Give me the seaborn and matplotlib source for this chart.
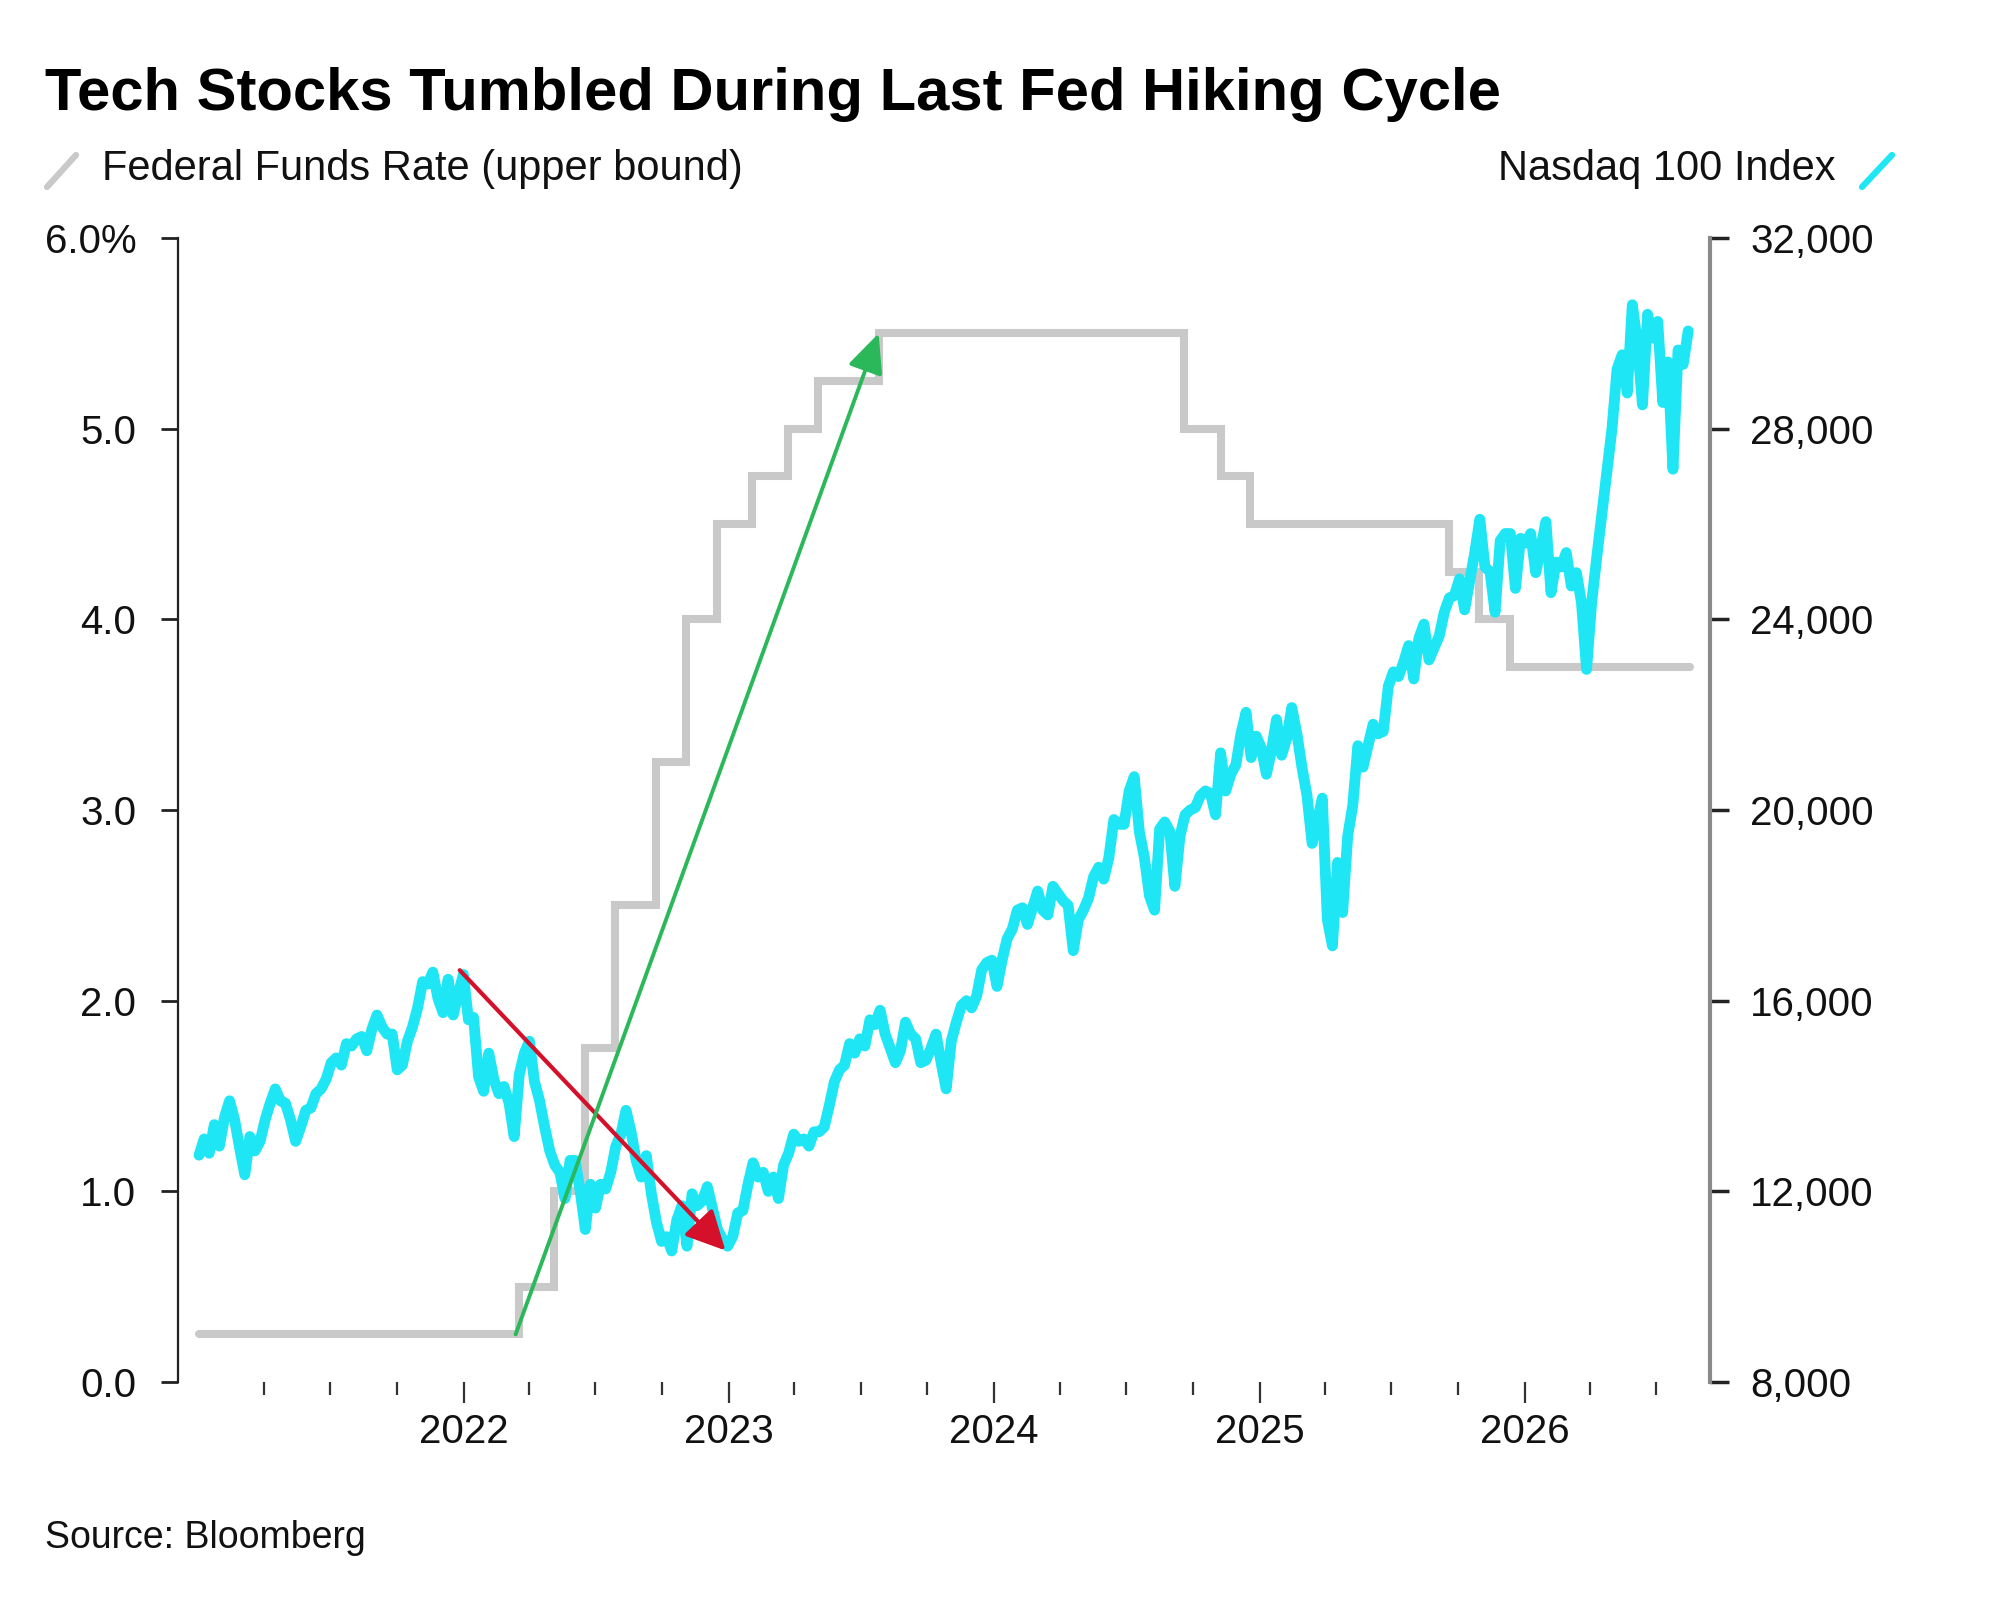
import pandas as pd
import matplotlib
matplotlib.use("Agg")
import matplotlib.pyplot as plt
import matplotlib.dates as mdates
from matplotlib.lines import Line2D
import seaborn as sns

# Nasdaq 100, roughly weekly readings, one list per calendar year
ndx_2021 = [12760, 13100, 12800, 13400, 12950, 13550, 13900, 13500, 12900, 12350,
            13150, 12850, 13050, 13500, 13850, 14150, 13900, 13850, 13500, 13050,
            13350, 13700, 13750, 14050, 14150, 14350, 14700, 14800, 14650, 15100,
            15050, 15200, 15250, 14950, 15400, 15700, 15450, 15300, 15300, 14550,
            14650, 15150, 15450, 15850, 16400, 16350, 16600, 16050, 15750, 16450,
            15700, 16150, 16550]
ndx_2022 = [15600, 15650, 14400, 14100, 14900, 14350, 14050, 14200, 13850, 13150,
            14450, 14900, 15150, 14300, 13900, 13350, 12850, 12550, 12400, 11850,
            12650, 12650, 12000, 11200, 12150, 11650, 12150, 12050, 12400, 12950,
            13200, 13700, 13250, 12650, 12300, 12750, 11950, 11350, 10950, 11050,
            10750, 11400, 11700, 10850, 11950, 11700, 11800, 12100, 11650, 11200,
            11000, 10850]
ndx_2023 = [11050, 11550, 11600, 12150, 12600, 12300, 12400, 12000, 12300, 11850,
            12550, 12800, 13200, 13050, 13100, 12950, 13250, 13250, 13350, 13800,
            14300, 14550, 14650, 15100, 14900, 15200, 15050, 15600, 15500, 15800,
            15300, 15000, 14700, 14950, 15550, 15300, 15200, 14700, 14750, 15000,
            15300, 14700, 14150, 15150, 15550, 15900, 16000, 15850, 16100, 16650,
            16800, 16850]
ndx_2024 = [16300, 16850, 17300, 17500, 17900, 17950, 17600, 17950, 18300, 17900,
            17800, 18400, 18250, 18100, 18000, 17050, 17700, 17900, 18150, 18600,
            18800, 18550, 19000, 19800, 19700, 19700, 20400, 20700, 19550, 19000,
            18200, 17900, 19600, 19750, 19550, 18400, 19450, 19900, 20000, 20050,
            20300, 20400, 20350, 19900, 21200, 20400, 20750, 20950, 21600, 22050,
            21100, 21550]
ndx_2025 = [21300, 20750, 21250, 21900, 21150, 21500, 22150, 21600, 20900, 20300,
            19300, 19750, 20250, 17700, 17150, 18900, 17850, 19450, 20100, 21350,
            20900, 21350, 21800, 21600, 21650, 22600, 22900, 22800, 23100, 23450,
            22750, 23600, 23900, 23150, 23400, 23650, 24150, 24450, 24500, 24850,
            24200, 24800, 25400, 26100, 25100, 25000, 24150, 25650, 25800, 25800,
            24650, 25700]
ndx_2026 = [25600, 25800, 24980, 25500, 26050, 24560, 25200, 25100, 25400, 24700,
            24980, 24350, 22950, 24350, 25300, 26200, 27100, 28000, 29250, 29550,
            28750, 30600, 29800, 28500, 30400, 29900, 30250, 28550, 29400, 27150,
            29650, 29350, 30050]

# first and last reading date of each yearly list
ndx_years = [
    ("2021-01-01", "2021-12-31", ndx_2021),
    ("2022-01-07", "2022-12-30", ndx_2022),
    ("2023-01-06", "2023-12-29", ndx_2023),
    ("2024-01-05", "2024-12-27", ndx_2024),
    ("2025-01-03", "2025-12-26", ndx_2025),
    ("2026-01-02", "2026-08-14", ndx_2026),
]

# federal funds rate, upper bound, at each change
rate_dates = ["2021-01-01", "2022-03-17", "2022-05-05", "2022-06-16", "2022-07-28",
              "2022-09-22", "2022-11-03", "2022-12-15", "2023-02-02", "2023-03-23",
              "2023-05-04", "2023-07-27", "2024-09-19", "2024-11-08", "2024-12-19",
              "2025-09-18", "2025-10-30", "2025-12-11", "2026-08-16"]
rate_values = [0.25, 0.50, 1.00, 1.75, 2.50, 3.25, 4.00, 4.50, 4.75, 5.00,
               5.25, 5.50, 5.00, 4.75, 4.50, 4.25, 4.00, 3.75, 3.75]

rate_ticks = [0, 1, 2, 3, 4, 5, 6]
rate_labels = ["0.0", "1.0", "2.0", "3.0", "4.0", "5.0", "6.0%"]
ndx_ticks = [8000, 12000, 16000, 20000, 24000, 28000, 32000]
ndx_labels = ["8,000", "12,000", "16,000", "20,000", "24,000", "28,000", "32,000"]
year_ticks = ["2022-01-01", "2023-01-01", "2024-01-01", "2025-01-01", "2026-01-01"]
year_labels = ["2022", "2023", "2024", "2025", "2026"]

# arrows drawn on the chart, in rate units: (date, rate) -> (date, rate)
red_arrow = (("2021-12-26", 2.16), ("2022-12-27", 0.69))
green_arrow = (("2022-03-13", 0.25), ("2023-07-26", 5.50))

CYAN = "#1fe6f4"
GRAY = "#c9c9c9"

ndx_df = pd.concat(
    [pd.DataFrame({"date": pd.date_range(s, e, periods=len(v)), "value": v})
     for s, e, v in ndx_years],
    ignore_index=True,
)
rate_df = pd.DataFrame({"date": pd.to_datetime(rate_dates), "rate": rate_values})

sns.set_theme(style="white")
plt.rcParams["font.family"] = ["Liberation Sans", "DejaVu Sans"]

fig = plt.figure(figsize=(20, 16.05), dpi=100)
ax = fig.add_axes([0.089, 0.1389, 0.766, 0.7128])
ax2 = ax.twinx()

sns.lineplot(data=rate_df, x="date", y="rate", ax=ax, color=GRAY, linewidth=5.8,
             drawstyle="steps-post", solid_joinstyle="miter")
sns.lineplot(data=ndx_df, x="date", y="value", ax=ax2, color=CYAN, linewidth=7.8,
             solid_joinstyle="round", solid_capstyle="round")

ax.set_xlim(pd.Timestamp("2020-12-03"), pd.Timestamp("2026-09-13"))
ax.set_ylim(0, 6)
ax2.set_ylim(8000, 32000)

ax.set_yticks(rate_ticks)
ax.set_yticklabels(rate_labels)
ax2.set_yticks(ndx_ticks)
ax2.set_yticklabels(ndx_labels)
ax.set_xticks(pd.to_datetime(year_ticks))
ax.set_xticklabels(year_labels)
ax.xaxis.set_minor_locator(mdates.MonthLocator(bymonth=[4, 7, 10]))

for a in (ax, ax2):
    a.set_xlabel("")
    a.set_ylabel("")
    a.grid(False)
    a.spines["top"].set_visible(False)
    a.spines["bottom"].set_visible(False)
ax.spines["right"].set_visible(False)
ax2.spines["left"].set_visible(False)
ax.spines["left"].set_color("#222222")
ax.spines["left"].set_linewidth(1.6)
ax2.spines["right"].set_color("#8a8a8a")
ax2.spines["right"].set_linewidth(3)

ax.tick_params(axis="y", left=True, direction="out", length=12, width=2,
               color="#222222", pad=18, labelsize=29, labelcolor="#111111")
ax2.tick_params(axis="y", right=True, direction="out", length=14, width=2.5,
                color="#222222", pad=15, labelsize=29, labelcolor="#111111")
ax.tick_params(axis="x", which="major", bottom=True, direction="out", length=15,
               width=1.6, color="#333333", pad=7, labelsize=29, labelcolor="#111111")
ax.tick_params(axis="x", which="minor", bottom=True, direction="out", length=9,
               width=1.6, color="#333333")

for (d0, r0), (d1, r1), col, lw, hl, hw in [
    (*red_arrow, "#d4102a", 3.0, 1.2, 0.6),
    (*green_arrow, "#2bb85a", 2.8, 1.2, 0.55),
]:
    ax2.annotate("", xy=(mdates.date2num(pd.Timestamp(d1)), r1),
                 xytext=(mdates.date2num(pd.Timestamp(d0)), r0),
                 xycoords=ax.transData, textcoords=ax.transData,
                 arrowprops=dict(arrowstyle=f"-|>,head_length={hl},head_width={hw}",
                                 color=col, lw=lw, mutation_scale=20,
                                 shrinkA=0, shrinkB=0))

H = 1605.0
W = 2000.0
fig.text(45 / W, 1 - 110 / H, "Tech Stocks Tumbled During Last Fed Hiking Cycle",
         fontsize=43, fontweight="bold", color="#000000", va="baseline")
fig.text(102 / W, 1 - 180 / H, "Federal Funds Rate (upper bound)",
         fontsize=30, color="#111111", va="baseline")
fig.text(1836 / W, 1 - 180 / H, "Nasdaq 100 Index",
         fontsize=30, color="#111111", va="baseline", ha="right")
fig.add_artist(Line2D([47 / W, 76 / W], [1 - 187 / H, 1 - 155 / H],
                      transform=fig.transFigure, color=GRAY, lw=4.5))
fig.add_artist(Line2D([1862 / W, 1892 / W], [1 - 187 / H, 1 - 155 / H],
                      transform=fig.transFigure, color=CYAN, lw=4.5))
fig.text(45 / W, 1 - 1548 / H, "Source: Bloomberg",
         fontsize=27, color="#111111", va="baseline")

fig.savefig("out.png", dpi=100, facecolor="white")
